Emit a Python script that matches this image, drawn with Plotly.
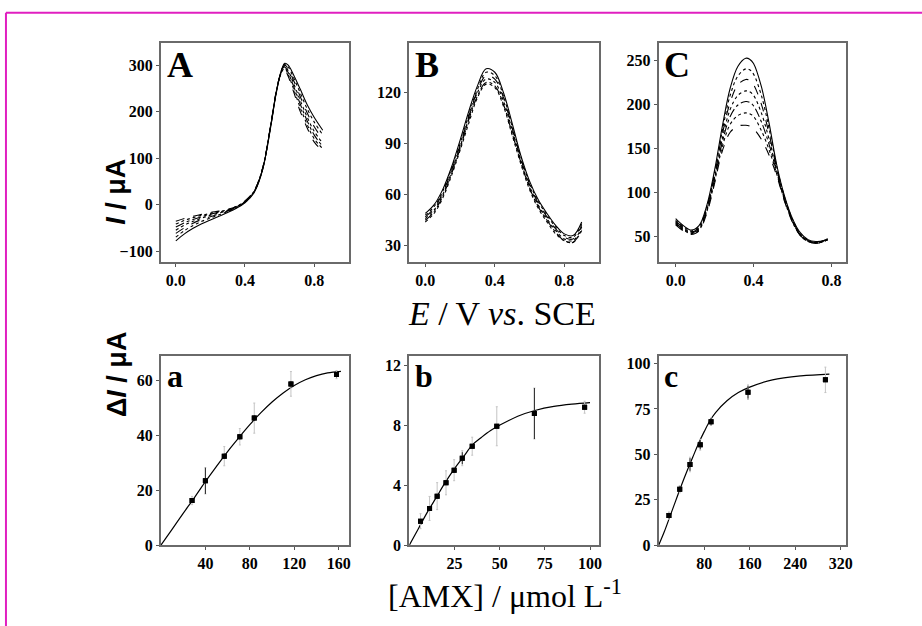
import plotly.graph_objects as go

W, H = 922, 626

# ---------------- Panel A: linear sweep voltammograms ----------------
A_E = [0, .05, .1, .15, .2, .25, .3, .35, .4, .45, .5, .55, .58, .61, .63, .65, .68, .72, .76, .8, .85]
A_I = [
    [-78, -63, -51, -41, -33, -25, -17, -8, 4, 24, 72, 170, 238, 288, 304, 300, 280, 248, 215, 188, 160],
    [-70, -56, -45, -36, -29, -22, -15, -7, 5, 25, 73, 171, 239, 288, 302, 296, 274, 240, 206, 178, 150],
    [-62, -50, -40, -32, -26, -20, -14, -6, 6, 26, 74, 172, 240, 287, 300, 292, 268, 232, 197, 168, 140],
    [-55, -44, -36, -29, -23, -18, -13, -5, 6, 26, 74, 172, 240, 286, 298, 288, 262, 224, 188, 158, 132],
    [-48, -39, -32, -26, -21, -16, -12, -5, 7, 27, 75, 173, 241, 285, 296, 284, 256, 216, 180, 150, 125],
    [-42, -34, -28, -23, -19, -15, -11, -4, 7, 27, 75, 173, 241, 284, 293, 280, 250, 208, 172, 142, 120],
    [-36, -30, -25, -21, -17, -14, -10, -4, 8, 28, 76, 174, 242, 283, 290, 276, 244, 200, 165, 135, 115],
]

# ---------------- Panel B: DPV peaks ----------------
B_E = [0, .05, .1, .15, .2, .25, .3, .35, .4, .45, .5, .55, .6, .65, .7, .75, .8, .85, .9]
B_I = [
    [49, 54, 63, 76, 92, 109, 124, 134, 132, 120, 102, 83, 68, 57, 49, 42, 37, 36, 44],
    [48, 53, 62, 75, 90, 107, 122, 132, 130, 118, 100, 82, 67, 56, 48, 41, 36, 35, 43],
    [47, 52, 61, 74, 89, 106, 121, 130, 128, 117, 99, 81, 66, 55, 47, 40, 35, 34, 42],
    [46, 51, 60, 73, 88, 105, 120, 128, 126, 115, 98, 80, 65, 54, 46, 39, 34, 33, 41],
    [45, 50, 59, 72, 87, 104, 118, 126, 124, 113, 96, 79, 64, 53, 45, 38, 33, 32, 40],
    [44, 49, 58, 71, 86, 102, 117, 125, 123, 112, 95, 78, 63, 52, 44, 37, 33, 32, 39],
]

# ---------------- Panel C: DPV peaks ----------------
C_E = [0, .04, .08, .12, .16, .2, .24, .28, .32, .36, .38, .4, .44, .48, .52, .56, .6, .64, .68, .72, .76, .78]
C_I = [
    [70, 62, 57, 62, 85, 125, 175, 218, 243, 252, 251, 246, 220, 178, 130, 95, 70, 54, 46, 44, 45, 47],
    [68, 61, 56, 61, 83, 122, 170, 210, 232, 240, 239, 234, 210, 172, 128, 94, 69, 53, 45, 43, 45, 47],
    [67, 60, 55, 60, 82, 120, 166, 202, 222, 228, 227, 222, 200, 166, 126, 93, 68, 52, 45, 43, 45, 47],
    [66, 59, 55, 59, 80, 117, 161, 194, 210, 215, 214, 210, 190, 160, 124, 92, 68, 52, 45, 43, 44, 46],
    [65, 58, 54, 58, 79, 115, 157, 186, 199, 203, 202, 198, 180, 154, 122, 91, 67, 51, 44, 42, 44, 46],
    [64, 57, 53, 57, 78, 112, 152, 177, 187, 190, 189, 186, 170, 148, 120, 90, 66, 51, 44, 42, 44, 46],
    [63, 56, 52, 56, 76, 110, 147, 168, 175, 176, 175, 172, 160, 142, 118, 89, 66, 51, 44, 42, 44, 46],
]

# ---------------- Calibration panels ----------------
a_x = [28, 40, 57, 71, 84, 117, 158]
a_y = [16.3, 23.5, 32.5, 39.6, 46.4, 58.9, 62.3]
a_err_faint = [1.5, 4.8, 3.5, 3.0, 5.5, 4.5, 1.5]
a_err_dark = [0.8, 4.8, 1.0, 1.0, 1.0, 1.0, 1.0]
a_fit_x = [0, 10, 20, 30, 40, 50, 60, 70, 80, 90, 100, 110, 120, 130, 140, 150, 162]
a_fit_y = [0, 5.8, 11.6, 17.3, 23.2, 28.8, 34.2, 39.2, 44.0, 48.4, 52.3, 55.6, 58.3, 60.4, 61.9, 62.9, 63.5]

b_x = [6.2, 11.2, 15.4, 20.3, 24.8, 29.3, 34.8, 48.4, 69.2, 97]
b_y = [1.6, 2.45, 3.27, 4.16, 5.0, 5.8, 6.6, 7.93, 8.78, 9.2]
b_err_faint = [0.5, 0.8, 0.9, 0.8, 0.7, 0.5, 0.6, 1.3, 1.7, 0.4]
b_err_dark = [0.1, 0.1, 0.1, 0.1, 0.1, 0.4, 0.1, 0.1, 1.7, 0.1]
b_fit_x = [0, 5, 10, 15, 20, 25, 30, 35, 40, 45, 50, 60, 70, 80, 90, 100]
b_fit_y = [0, 1.1, 2.2, 3.2, 4.2, 5.1, 5.9, 6.7, 7.2, 7.65, 8.0, 8.6, 9.0, 9.25, 9.4, 9.5]

c_x = [18, 37, 55, 73, 92, 157, 293]
c_y = [16.3, 30.8, 44.4, 55.3, 68, 84.2, 91]
c_err_faint = [2, 2, 4, 3, 2, 4, 7]
c_err_dark = [1.5, 1.5, 3.5, 2.5, 2, 3.5, 1]
c_fit_x = [0, 10, 20, 30, 40, 50, 60, 70, 80, 90, 100, 120, 140, 160, 200, 250, 300]
c_fit_y = [0, 7.5, 16, 24.5, 33, 41, 48.5, 56, 62.5, 68.5, 73, 79.5, 84, 87, 91, 93.2, 94.2]

# ---------------- layout geometry (pixels) ----------------
cols = [(162, 351), (412, 603), (663, 852)]
rows = [(43, 265), (361, 553)]


def xd(c):
    return [c[0] / W, c[1] / W]


def yd(r):
    return [1 - r[1] / H, 1 - r[0] / H]


fig = go.Figure()
dashes = ['solid', 'dot', 'dash', 'dot', 'dashdot', 'dot', 'dash']

for k, (E, curves) in enumerate([(A_E, A_I), (B_E, B_I), (C_E, C_I)]):
    ax = '' if k == 0 else str(k + 1)
    for i, I in enumerate(curves):
        fig.add_trace(go.Scatter(
            x=E, y=I, mode='lines',
            line=dict(color='black', width=1.1, dash=dashes[i % len(dashes)], shape='spline'),
            xaxis='x' + ax, yaxis='y' + ax, hoverinfo='skip'))

calib = [
    (a_x, a_y, a_err_faint, a_err_dark, a_fit_x, a_fit_y),
    (b_x, b_y, b_err_faint, b_err_dark, b_fit_x, b_fit_y),
    (c_x, c_y, c_err_faint, c_err_dark, c_fit_x, c_fit_y),
]
for k, (px, py, ef, ed, fx, fy) in enumerate(calib):
    ax = str(k + 4)
    fig.add_trace(go.Scatter(x=fx, y=fy, mode='lines',
                             line=dict(color='black', width=1.2, shape='spline'),
                             xaxis='x' + ax, yaxis='y' + ax))
    fig.add_trace(go.Scatter(x=px, y=py, mode='markers',
                             marker=dict(symbol='square', size=5, color='black'),
                             error_y=dict(type='data', array=ef, color='#c4c4c4', thickness=1, width=1),
                             xaxis='x' + ax, yaxis='y' + ax))
    fig.add_trace(go.Scatter(x=px, y=py, mode='markers',
                             marker=dict(symbol='square', size=5, color='black'),
                             error_y=dict(type='data', array=ed, color='#222', thickness=1, width=0),
                             xaxis='x' + ax, yaxis='y' + ax))

tickfont = dict(family='Liberation Serif', size=16, color='black', weight='bold')
base = dict(showline=True, mirror=True, linecolor='#6a6a6a', linewidth=2, ticks='outside',
            ticklen=3, tickcolor='#555', tickfont=tickfont, showgrid=False, zeroline=False,
            fixedrange=True)

x_ranges = [[-0.086, 1.0], [-0.092, 1.0], [-0.087, 0.877], [0, 169], [0, 105], [0, 330]]
y_ranges = [[-123, 347], [20.6, 149], [21, 269], [0, 69], [0, 12.6], [0, 104]]
x_ticks = [[0, 0.4, 0.8]] * 3 + [[40, 80, 120, 160], [25, 50, 75, 100], [80, 160, 240, 320]]
y_ticks = [[-100, 0, 100, 200, 300], [30, 60, 90, 120], [50, 100, 150, 200, 250],
           [0, 20, 40, 60], [0, 4, 8, 12], [0, 25, 50, 75, 100]]

layout = dict(width=W, height=H, margin=dict(l=0, r=0, t=0, b=0),
              paper_bgcolor='white', plot_bgcolor='white', showlegend=False)
for k in range(6):
    ax = '' if k == 0 else str(k + 1)
    c = cols[k % 3]
    r = rows[k // 3]
    xa = dict(base, domain=xd(c), range=x_ranges[k], tickvals=x_ticks[k],
              anchor='y' + ax)
    if k < 3:
        xa['tickformat'] = '.1f'
    ya = dict(base, domain=yd(r), range=y_ranges[k], tickvals=y_ticks[k],
              anchor='x' + ax)
    layout['xaxis' + ax] = xa
    layout['yaxis' + ax] = ya

fig.update_layout(**layout)

# panel letters
letters = ['A', 'B', 'C', 'a', 'b', 'c']
for k, L in enumerate(letters):
    ax = '' if k == 0 else str(k + 1)
    fig.add_annotation(text='<b>%s</b>' % L, xref='x%s domain' % ax, yref='y%s domain' % ax,
                       x=0.02, y=1.0, xanchor='left', yanchor='top', showarrow=False,
                       font=dict(family='Liberation Serif', size=36 if k < 3 else 32, color='black'))

# axis titles
fig.add_annotation(text='<b><i>I</i> / μA</b>', xref='paper', yref='paper',
                   x=100 / W, y=1 - 158 / H, textangle=-90, showarrow=False,
                   font=dict(family='Liberation Sans', size=27, color='black'))
fig.add_annotation(text='<b>Δ<i>I</i> / μA</b>', xref='paper', yref='paper',
                   x=100 / W, y=1 - 425 / H, textangle=-90, showarrow=False,
                   font=dict(family='Liberation Sans', size=27, color='black'))
fig.add_annotation(text='<i>E</i> / V <i>vs</i>. SCE', xref='paper', yref='paper',
                   x=505 / W, y=1 - 318 / H, showarrow=False,
                   font=dict(family='Liberation Serif', size=34, color='black'))
fig.add_annotation(text='[AMX] / μmol L<sup>-1</sup>', xref='paper', yref='paper',
                   x=508 / W, y=1 - 603 / H, showarrow=False, yanchor='middle',
                   font=dict(family='Liberation Serif', size=32, color='black'))

# magenta page frame (top and left edges)
fig.add_shape(type='line', xref='paper', yref='paper', x0=6 / W, x1=1.02, y0=1 - 12 / H, y1=1 - 12 / H,
              line=dict(color='#e01fc0', width=2))
fig.add_shape(type='line', xref='paper', yref='paper', x0=6 / W, x1=6 / W, y0=-0.02, y1=1 - 12 / H,
              line=dict(color='#e01fc0', width=2))

fig.write_html('out.html')
